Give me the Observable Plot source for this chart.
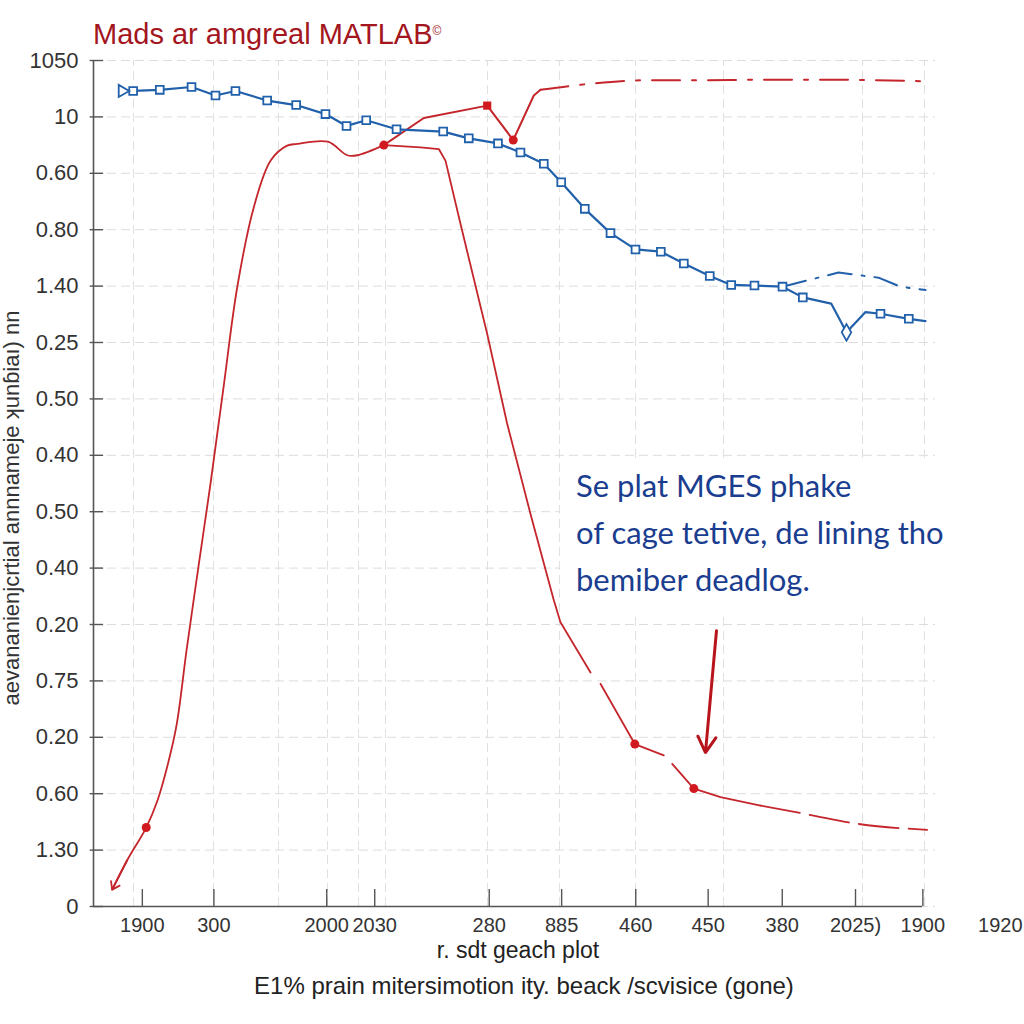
<!DOCTYPE html>
<html><head><meta charset="utf-8">
<script src="https://cdn.jsdelivr.net/npm/d3@7"></script>
<script src="https://cdn.jsdelivr.net/npm/@observablehq/plot@0.6"></script>
<style>
body{margin:0;background:#fff;}
#wrap{position:relative;width:1024px;height:1024px;overflow:hidden;font-family:"Liberation Sans",Arial,sans-serif;background:#fff;}
#chart{position:absolute;left:0;top:0;}
.t{position:absolute;white-space:nowrap;}
#title{left:93px;top:20px;font-size:29px;line-height:29px;color:#a3161e;}
#title sup{font-size:12px;vertical-align:top;position:relative;top:-3px;}
#note{left:560px;top:460px;width:384px;height:150px;padding:2px 0 0 16px;background:#fff;font-family:Lato,"Open Sans",sans-serif;font-size:31px;line-height:47px;color:#1a3d8f;}
#ytitle{left:-238px;top:495px;width:500px;height:26px;line-height:26px;text-align:center;font-size:22px;color:#333;transform:rotate(-90deg);}
.xt{left:218px;width:600px;text-align:center;font-size:23px;line-height:23px;color:#222;}
</style></head><body>
<div id="wrap">
  <div id="chart"></div>
  <div class="t" id="title">Mads ar amgreal MATLAB<sup>©</sup></div>
  <div class="t" id="ytitle">aevananienjcrtial annnameje ʞunɓiaı) nn</div>
  <div class="t xt" style="top:939px">r. sdt geach plot</div>
  <div class="t xt" style="top:974px;left:224px;font-size:24px;line-height:24px">E1% prain mitersimotion ity. beack /scvisice (gone)</div>
  <div class="t" id="note">Se plat MGES phake<br>of cage tetive, de lining tho<br>bemiber deadlog.</div>
</div>
<script>
// ---- axes (categorical-looking tick labels at positions) ----
const yTickLabels = ["0","1.30","0.60","0.20","0.75","0.20","0.40","0.50","0.40","0.50","0.25","1.40","0.80","0.60","10","1050"];
const yTickPos = d3.range(yTickLabels.length);
const xTickPos = [5.8, 14.3, 27.7, 33.4, 47.0, 55.6, 64.4, 73.0, 81.8, 90.5, 98.5];
const xTickLabels = ["1900","300","2000","2030","280","885","460","450","380","2025)","1900"];
const xExtraPos = [107.7];
const xExtraLabels = ["1920"];
const xGrid = [4.75, 14.25, 21.97, 27.79, 31.47, 34.68, 46.79, 55.34, 64.37, 74.82, 91.33, 98.69];

// ---- blue series ----
const blueX = [3.41,4.71,7.87,11.64,14.49,16.86,20.63,24.07,27.55,30.05,32.39,35.99,41.53,44.57,48.04,50.71,53.48,55.55,58.35,61.40,64.37,67.38,70.11,73.19,75.74,78.50,81.83,84.24,87.61,89.43,91.69,93.47,96.83,98.81];
const blueY = [14.46,14.46,14.48,14.53,14.38,14.46,14.29,14.21,14.05,13.84,13.94,13.78,13.74,13.62,13.53,13.37,13.17,12.84,12.37,11.94,11.65,11.61,11.40,11.18,11.02,11.01,10.99,10.80,10.69,10.18,10.54,10.51,10.42,10.38];
const blueMarker = ["triangle","square","square","square","square","square","square","square","square","square","square","square","square","square","square","square","square","square","square","square","square","square","square","square","square","square","square","square","","diamond","","square","square",""];
// blue dash-dot branch
const blueBranchX = [81.83,88.48,93.23,95.84,98.81];
const blueBranchY = [10.99,11.24,11.15,10.99,10.93];

// ---- red series ----
// rising, smooth part
const redRiseX = [2.22,4.0,6.26,7.60,8.79,9.86,11.05,12.47,13.90,15.44,17.07,19.04,21.06,23.00,24.19,27.83,30.13,31.32,34.48];
const redRiseY = [0.30,0.82,1.40,1.88,2.50,3.21,4.54,6.03,7.50,9.20,10.98,12.40,13.23,13.49,13.52,13.56,13.32,13.32,13.50];
// falling part, with gaps between pieces (seg)
const redFallX = [34.48,38.84,41.01,41.81,43.59,46.76,49.13,51.90,54.67,55.46,59.03, 60.21,64.29,67.73, 68.73,71.30,74.47,79.22];
const redFallY = [13.50,13.46,13.43,13.22,12.10,10.15,8.56,6.96,5.43,5.04,4.15, 3.95,2.88,2.68, 2.53,2.09,1.94,1.79];
const redFallSeg = [0,0,0,0,0,0,0,0,0,0,0, 1,1,1, 2,2,2,2];
const redTailX = [79.22,85.95,89.70,99.01];
const redTailY = [1.79,1.60,1.49,1.36];
const redUpX = [34.48,39.23,46.76,49.85,52.29,53.09];
const redUpY = [13.50,13.98,14.20,13.59,14.38,14.48];
const redUpDashX = [53.09,57.84,65.76,72.09,79.22,87.53,99.01];
const redUpDashY = [14.48,14.57,14.65,14.65,14.66,14.66,14.63];
const redDotX = [6.26,34.48,49.85,64.29,71.30];
const redDotY = [1.40,13.50,13.59,2.88,2.09];
const redSquareX = [46.76];
const redSquareY = [14.20];
// annotation arrow (tail -> head)
const noteArrow = [{x1:73.99, y1:4.89, x2:72.68, y2:2.73}];

const BLUE = "#2160aa", RED = "#c4262c";
const pts = (xs, ys, extra) => xs.map((x, i) => Object.assign({x, y: ys[i]}, extra ? extra(i) : {}));
const blue = pts(blueX, blueY, i => ({m: blueMarker[i]}));
const redFall = pts(redFallX, redFallY, i => ({seg: redFallSeg[i]}));
const startArrow = [{x1: redRiseX[1], y1: redRiseY[1], x2: redRiseX[0], y2: redRiseY[0]}];

const chart = Plot.plot({
  width: 1024, height: 945,
  marginTop: 60, marginBottom: 39, marginLeft: 93, marginRight: 89,
  x: {domain: [0, 100]},
  y: {domain: [0, 15]},
  style: {fontFamily: "'Liberation Sans', Arial, sans-serif", background: "transparent", color: "#333"},
  marks: [
    Plot.ruleY(yTickPos, {x1: 0, x2: 100, stroke: "#dcdcdc", strokeDasharray: "9,5", strokeWidth: 1}),
    Plot.ruleX(xGrid, {y1: 0, y2: 15, stroke: "#e0e0e0", strokeDasharray: "9,5", strokeWidth: 1}),
    Plot.ruleX([0], {y1: 0, y2: 15, stroke: "#555", strokeWidth: 1.6}),
    Plot.ruleY([0], {x1: 0, x2: 98.46, stroke: "#555", strokeWidth: 1.6}),
    Plot.ruleY(yTickPos, {x1: -0.4, x2: 1.2, stroke: "#555", strokeWidth: 1.4}),
    Plot.ruleX(xTickPos, {y1: 0, y2: 0.3, stroke: "#555", strokeWidth: 1.4}),
    Plot.axisY({ticks: yTickPos, tickFormat: d => yTickLabels[d], tickSize: 0, tickPadding: 15, fontSize: 22, label: null, color: "#333"}),
    Plot.axisX({ticks: xTickPos, tickFormat: d => xTickLabels[xTickPos.indexOf(d)], tickSize: 0, tickPadding: 11, fontSize: 20, label: null, color: "#333"}),
    Plot.axisX({ticks: xExtraPos, tickFormat: d => xExtraLabels[xExtraPos.indexOf(d)], tickSize: 0, tickPadding: 11, fontSize: 20, label: null, color: "#333"}),
    // red curves
    Plot.line(pts(redRiseX, redRiseY), {x: "x", y: "y", stroke: RED, strokeWidth: 1.8, curve: "catmull-rom"}),
    Plot.line(redFall, {x: "x", y: "y", z: "seg", stroke: RED, strokeWidth: 1.8, curve: "linear"}),
    Plot.line(pts(redTailX, redTailY), {x: "x", y: "y", stroke: RED, strokeWidth: 1.8, strokeDasharray: "40,10", curve: "monotone-x"}),
    Plot.line(pts(redUpX, redUpY), {x: "x", y: "y", stroke: RED, strokeWidth: 2}),
    Plot.line(pts(redUpDashX, redUpDashY), {x: "x", y: "y", stroke: RED, strokeWidth: 2, strokeDasharray: "28,12,4,12", curve: "monotone-x"}),
    Plot.arrow(startArrow, {x1: "x1", y1: "y1", x2: "x2", y2: "y2", stroke: RED, strokeWidth: 1.8, headLength: 7, headAngle: 70}),
    // blue curves
    Plot.line(blue, {x: "x", y: "y", stroke: BLUE, strokeWidth: 2.2}),
    Plot.line(pts(blueBranchX, blueBranchY), {x: "x", y: "y", stroke: BLUE, strokeWidth: 2, strokeDasharray: "24,10,3,10"}),
    Plot.dot(blue.filter(d => d.m === "square"), {x: "x", y: "y", symbol: "square", r: 4.4, fill: "#fff", stroke: BLUE, strokeWidth: 1.8}),
    Plot.dot(blue.filter(d => d.m === "diamond"), {x: "x", y: "y", symbol: "diamond", r: 5, fill: "#fff", stroke: BLUE, strokeWidth: 1.8}),
    Plot.dot(blue.filter(d => d.m === "triangle"), {x: "x", y: "y", symbol: "triangle", r: 4.5, rotate: 90, fill: "#fff", stroke: BLUE, strokeWidth: 1.8}),
    // red markers
    Plot.dot(pts(redDotX, redDotY), {x: "x", y: "y", r: 4.5, fill: "#d11a1f"}),
    Plot.dot(pts(redSquareX, redSquareY), {x: "x", y: "y", symbol: "square", r: 4.6, fill: "#d11a1f"}),
    // annotation arrow
    Plot.arrow(noteArrow, {x1: "x1", y1: "y1", x2: "x2", y2: "y2", stroke: "#b8141c", strokeWidth: 3, headLength: 9, headAngle: 60})
  ]
});
document.getElementById("chart").appendChild(chart);
</script>
</body></html>
